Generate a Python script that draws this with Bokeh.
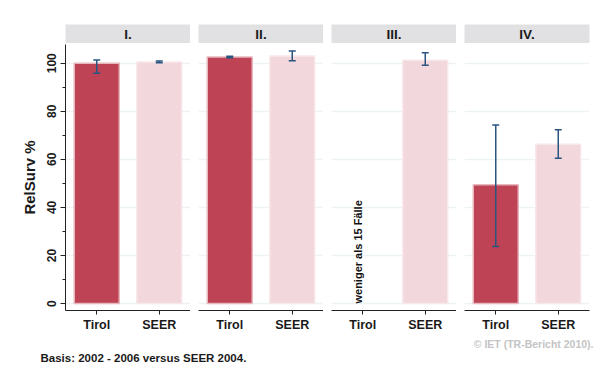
import math
from bokeh.plotting import figure
from bokeh.layouts import column, row
from bokeh.models import (ColumnDataSource, Range1d, FactorRange, Whisker, TeeHead,
                          SingleIntervalTicker, Grid)
from bokeh.core.properties import value
from bokeh.embed import file_html
from bokeh.resources import INLINE

# ---------------- data ----------------
panels = ["I.", "II.", "III.", "IV."]
categories = ["Tirol", "SEER"]
tirol_values = [100.0, 102.6, float("nan"), 49.4]
tirol_lower = [95.8, 102.3, float("nan"), 23.7]
tirol_upper = [101.3, 102.9, float("nan"), 74.3]
seer_values = [100.5, 103.0, 101.2, 66.3]
seer_lower = [100.2, 101.0, 99.2, 60.5]
seer_upper = [100.9, 105.1, 104.4, 72.3]
y_ticks_interval = 20
note_text = "weniger als 15 Fälle"
footer_left = "Basis: 2002 - 2006 versus SEER 2004."
footer_right = "© IET (TR-Bericht 2010)."
y_label = "RelSurv %"

FONT = "Liberation Sans"
TIROL_FILL = "#bd4355"
TIROL_LINE = "#e8b6bd"
SEER_FILL = "#f2d8dd"
SEER_LINE = "#f8e8eb"
ERR_COLOR = "#2a5580"
GRID_COLOR = "#edf2f2"
HEADER_BG = "#e1e1e3"

FRAME_W = 125
GAP = 8
LEFT = 65
RIGHT_LAST = 5

y_range = Range1d(-2.9, 107.8)

headers = []
plots = []
for i, name in enumerate(panels):
    left = LEFT if i == 0 else GAP
    right = RIGHT_LAST if i == len(panels) - 1 else 0
    w = left + FRAME_W + right

    # header strip
    h = figure(width=w, height=43, x_range=Range1d(0, 1), y_range=Range1d(0, 1),
               min_border_top=24, min_border_bottom=0, min_border_left=left,
               min_border_right=right, x_axis_location=None, y_axis_location=None,
               background_fill_color=HEADER_BG, border_fill_color="white",
               outline_line_color=None, toolbar_location=None, output_backend="svg")
    h.grid.visible = False
    h.text(x=[0.5], y=[0.45], text=[name], text_align="center", text_baseline="middle",
           text_font=value(FONT), text_font_style="bold", text_font_size="13.5px",
           text_color="#1a1a1a")
    headers.append(h)

    # main panel
    p = figure(width=w, height=291, x_range=FactorRange(*categories), y_range=y_range,
               min_border_top=1, min_border_bottom=24, min_border_left=left,
               min_border_right=right,
               y_axis_location="left" if i == 0 else None,
               background_fill_color="white", border_fill_color="white",
               outline_line_color=None, toolbar_location=None, output_backend="svg")
    p.xgrid.visible = False
    if i == 0:
        p.yaxis.ticker = SingleIntervalTicker(interval=y_ticks_interval, num_minor_ticks=2)
        p.ygrid.ticker = SingleIntervalTicker(interval=y_ticks_interval)
        p.ygrid.grid_line_color = GRID_COLOR
        p.ygrid.grid_line_width = 1.5
        ax = p.yaxis[0]
        ax.axis_label = y_label
        ax.axis_label_text_font = FONT
        ax.axis_label_text_font_style = "bold"
        ax.axis_label_text_font_size = "15px"
        ax.axis_label_text_color = "#1a1a1a"
        ax.axis_label_standoff = 7
        ax.major_label_orientation = "vertical"
        ax.major_label_text_font = FONT
        ax.major_label_text_font_style = "bold"
        ax.major_label_text_font_size = "12px"
        ax.major_label_text_color = "#1a1a1a"
        ax.major_label_standoff = 4
        ax.major_tick_out = 5
        ax.major_tick_in = 0
        ax.minor_tick_out = 3
        ax.minor_tick_in = 0
        ax.axis_line_color = "#222222"
        ax.major_tick_line_color = "#222222"
        ax.minor_tick_line_color = "#222222"
    else:
        p.ygrid.grid_line_color = None
        p.add_layout(Grid(dimension=1, ticker=SingleIntervalTicker(interval=y_ticks_interval),
                          grid_line_color=GRID_COLOR, grid_line_width=1.5), "center")

    xa = p.xaxis[0]
    xa.major_label_text_font = FONT
    xa.major_label_text_font_style = "bold"
    xa.major_label_text_font_size = "12.5px"
    xa.major_label_text_color = "#1a1a1a"
    xa.major_tick_out = 4
    xa.major_tick_in = 0
    xa.major_label_standoff = 3
    xa.axis_line_color = "#222222"
    xa.major_tick_line_color = "#222222"

    # bars
    for cat, vals, lo, hi, fill, line in (
        ("Tirol", tirol_values, tirol_lower, tirol_upper, TIROL_FILL, TIROL_LINE),
        ("SEER", seer_values, seer_lower, seer_upper, SEER_FILL, SEER_LINE),
    ):
        v = vals[i]
        if v != v:  # missing value
            continue
        src = ColumnDataSource(dict(x=[cat], top=[v], lower=[lo[i]], upper=[hi[i]]))
        p.vbar(x="x", top="top", bottom=0, width=0.72, source=src,
               fill_color=fill, line_color=line, line_width=1.5)
        wk = Whisker(source=src, base="x", lower="lower", upper="upper",
                     line_color=ERR_COLOR, line_width=1.5, level="annotation",
                     upper_head=TeeHead(size=7, line_color=ERR_COLOR, line_width=1.5),
                     lower_head=TeeHead(size=7, line_color=ERR_COLOR, line_width=1.5))
        p.add_layout(wk)

    if tirol_values[i] != tirol_values[i]:
        p.text(x=["Tirol"], y=[0], text=[note_text], angle=math.pi / 2,
               text_align="left", text_baseline="middle", x_offset=-5,
               text_font=value(FONT), text_font_style="bold", text_font_size="11px",
               text_color="#111111")
    plots.append(p)

# footer
total_w = LEFT + 4 * FRAME_W + 3 * GAP + RIGHT_LAST
fh = 36
f = figure(width=total_w, height=fh, x_range=Range1d(0, total_w), y_range=Range1d(0, fh),
           min_border=0, min_border_left=0, min_border_right=0, min_border_top=0,
           min_border_bottom=0, x_axis_location=None, y_axis_location=None,
           outline_line_color=None, toolbar_location=None, output_backend="svg")
f.grid.visible = False
f.text(x=[40], y=[13], text=[footer_left], text_align="left", text_baseline="middle",
       text_font=value(FONT), text_font_style="bold", text_font_size="11.5px",
       text_color="#1a1a1a")
f.text(x=[total_w - 1], y=[27], text=[footer_right], text_align="right",
       text_baseline="middle", text_font=value(FONT), text_font_style="bold",
       text_font_size="10.5px", text_color="#c4c4c4")

layout = column(row(*headers), row(*plots), f)
open("out.html", "w").write(file_html(layout, INLINE))
